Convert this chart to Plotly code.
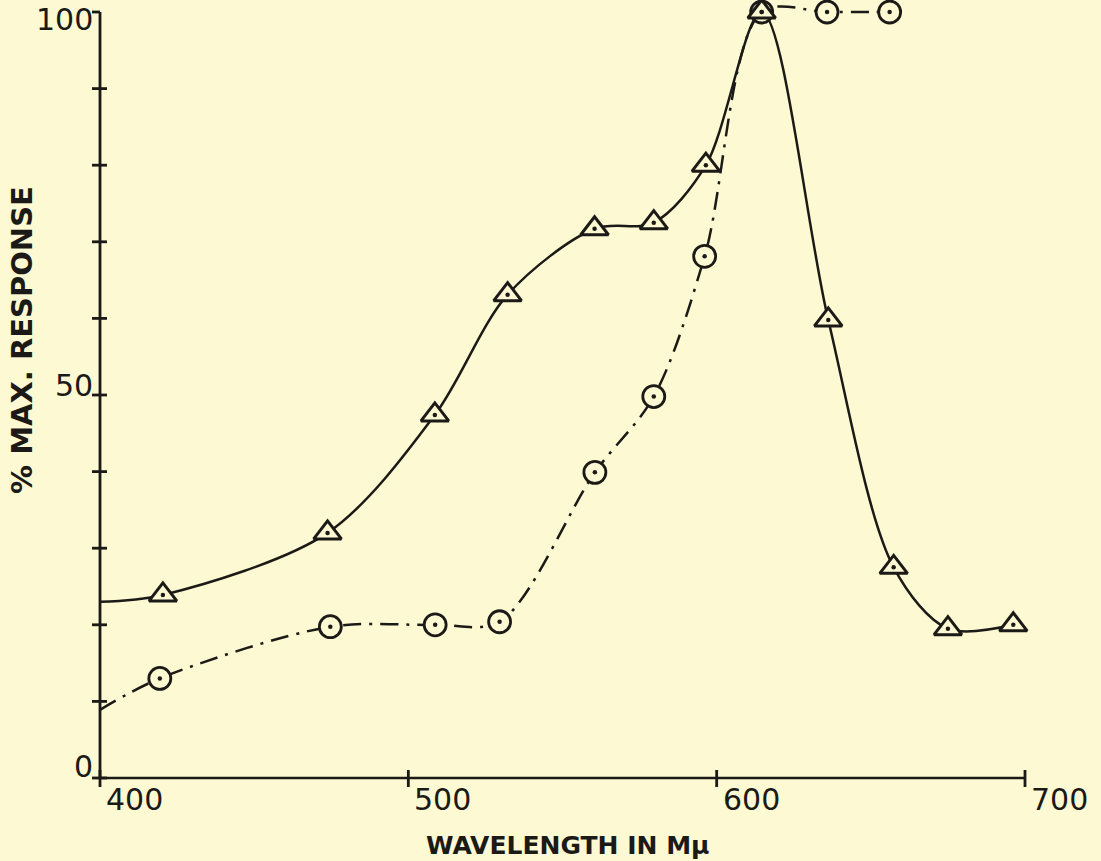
import plotly.graph_objects as go

# ---------------- data ----------------
# solid curve (triangles); first point is the curve start at the axis (no marker)
tri_x = [400, 420.4, 473.8, 508.6, 532.2, 560.4, 579.6, 596.5, 614.6, 636.2, 657.4, 675.0, 696.2]
tri_y = [23.0, 23.9, 32.0, 47.4, 63.1, 71.7, 72.5, 80.0, 100, 59.8, 27.5, 19.5, 20.0]
# dash-dot curve (circles); first point is the curve start at the axis (no marker)
cir_x = [400, 419.4, 474.7, 508.7, 529.6, 560.5, 579.6, 596.1, 614.6, 635.8, 656.1]
cir_y = [8.9, 13.0, 19.75, 20.0, 20.4, 39.9, 49.8, 68.1, 100, 100, 100]

x_ticks = [400, 500, 600, 700]
x_ticklabels = ["400", "500", "600", "700"]
y_ticks = [0, 10, 20, 30, 40, 50, 60, 70, 80, 90, 100]
y_labeled = [0, 50, 100]
y_ticklabels = ["0", "50", "100"]

x_title = "WAVELENGTH IN Mμ"
y_title = "% MAX. RESPONSE"

# ---------------- layout geometry ----------------
W, H = 1101, 861
PX0, PX1 = 100, 1025   # pixel of x=400, x=700
PY0, PY1 = 778, 12     # pixel of y=0, y=100
ML, MR, MT, MB = 80, 40, 0, 60
sx = (PX1 - PX0) / (x_ticks[-1] - x_ticks[0])
sy = (PY0 - PY1) / (y_ticks[-1] - y_ticks[0])
xr = [x_ticks[0] - (PX0 - ML) / sx, x_ticks[-1] + (W - MR - PX1) / sx]
yr = [y_ticks[0] - (H - MB - PY0) / sy, y_ticks[-1] + (PY1 - MT) / sy]

BG = "#fcf9d3"
INK = "#1c1a16"

fig = go.Figure()

# lines
fig.add_trace(go.Scatter(
    x=cir_x, y=cir_y, mode="lines",
    line=dict(color=INK, width=2.5, shape="spline", smoothing=0.9, dash="18px,8px,3px,8px"),
    hoverinfo="skip", showlegend=False))
fig.add_trace(go.Scatter(
    x=tri_x, y=tri_y, mode="lines",
    line=dict(color=INK, width=2.5, shape="spline", smoothing=0.9),
    hoverinfo="skip", showlegend=False))
# markers
fig.add_trace(go.Scatter(
    x=cir_x[1:], y=cir_y[1:], mode="markers", cliponaxis=False,
    marker=dict(symbol="circle", size=22, color=BG, line=dict(color=INK, width=2.8)),
    hoverinfo="skip", showlegend=False))
fig.add_trace(go.Scatter(
    x=tri_x[1:], y=tri_y[1:], mode="markers", cliponaxis=False,
    marker=dict(symbol="triangle-up", size=24, color=BG, line=dict(color=INK, width=3)),
    hoverinfo="skip", showlegend=False))
# center dots of the markers
fig.add_trace(go.Scatter(
    x=cir_x[1:] + tri_x[1:], y=cir_y[1:] + tri_y[1:], mode="markers", cliponaxis=False,
    marker=dict(symbol="circle", size=4.5, color=INK, line=dict(width=0)),
    hoverinfo="skip", showlegend=False))

shapes = []
# axis lines
shapes.append(dict(type="line", xref="x", yref="y", x0=x_ticks[0], x1=x_ticks[-1],
                   y0=y_ticks[0], y1=y_ticks[0], line=dict(color=INK, width=2.5)))
shapes.append(dict(type="line", xref="x", yref="y", x0=x_ticks[0], x1=x_ticks[0],
                   y0=y_ticks[0], y1=y_ticks[-1], line=dict(color=INK, width=2.8)))
# y ticks (cross the axis; top one only to the left)
for t in y_ticks:
    right = 0 if t == y_ticks[-1] else 7
    shapes.append(dict(type="line", xref="x", yref="y", xsizemode="pixel", xanchor=x_ticks[0],
                       x0=-8, x1=right, y0=t, y1=t, line=dict(color=INK, width=2.8)))
# x ticks (cross the axis)
for t in x_ticks:
    shapes.append(dict(type="line", xref="x", yref="y", ysizemode="pixel", yanchor=y_ticks[0],
                       y0=-9, y1=8, x0=t, x1=t, line=dict(color=INK, width=2.8)))

annotations = []
for t, lab in zip(x_ticks, x_ticklabels):
    annotations.append(dict(x=t, y=0, xref="x", yref="y", text=lab, showarrow=False,
                            xanchor="left", yanchor="top", xshift=4, yshift=-2,
                            font=dict(family="DejaVu Sans", size=30, color=INK)))
y_label_shift = [12, 10, -7]
for t, lab, ys in zip(y_labeled, y_ticklabels, y_label_shift):
    annotations.append(dict(x=x_ticks[0], y=t, xref="x", yref="y", text=lab, showarrow=False,
                            xanchor="right", yanchor="middle", xshift=-5, yshift=ys,
                            font=dict(family="DejaVu Sans", size=30, color=INK)))
annotations.append(dict(x=(567 - ML) / (W - ML - MR), y=(H - MB - 846) / (H - MB - MT),
                        xref="paper", yref="paper", text=x_title, showarrow=False,
                        xanchor="center", yanchor="middle",
                        font=dict(family="DejaVu Sans", size=25, color=INK, weight="bold")))
annotations.append(dict(x=(22 - ML) / (W - ML - MR), y=(H - MB - 340) / (H - MB - MT),
                        xref="paper", yref="paper", text=y_title, showarrow=False, textangle=-90,
                        xanchor="center", yanchor="middle",
                        font=dict(family="DejaVu Sans", size=29, color=INK, weight="bold")))

fig.update_layout(
    width=W, height=H,
    margin=dict(l=ML, r=MR, t=MT, b=MB),
    paper_bgcolor=BG, plot_bgcolor=BG,
    xaxis=dict(range=xr, showgrid=False, zeroline=False, showline=False,
               showticklabels=False, ticks=""),
    yaxis=dict(range=yr, showgrid=False, zeroline=False, showline=False,
               showticklabels=False, ticks=""),
    shapes=shapes, annotations=annotations, showlegend=False,
)

fig.write_html("out.html",
               config={"displayModeBar": False, "staticPlot": True},
               post_script="document.body.style.margin='0px';"
                           "document.body.style.padding='0px';"
                           "document.body.style.overflow='hidden';"
                           "document.body.style.background='" + BG + "';")
